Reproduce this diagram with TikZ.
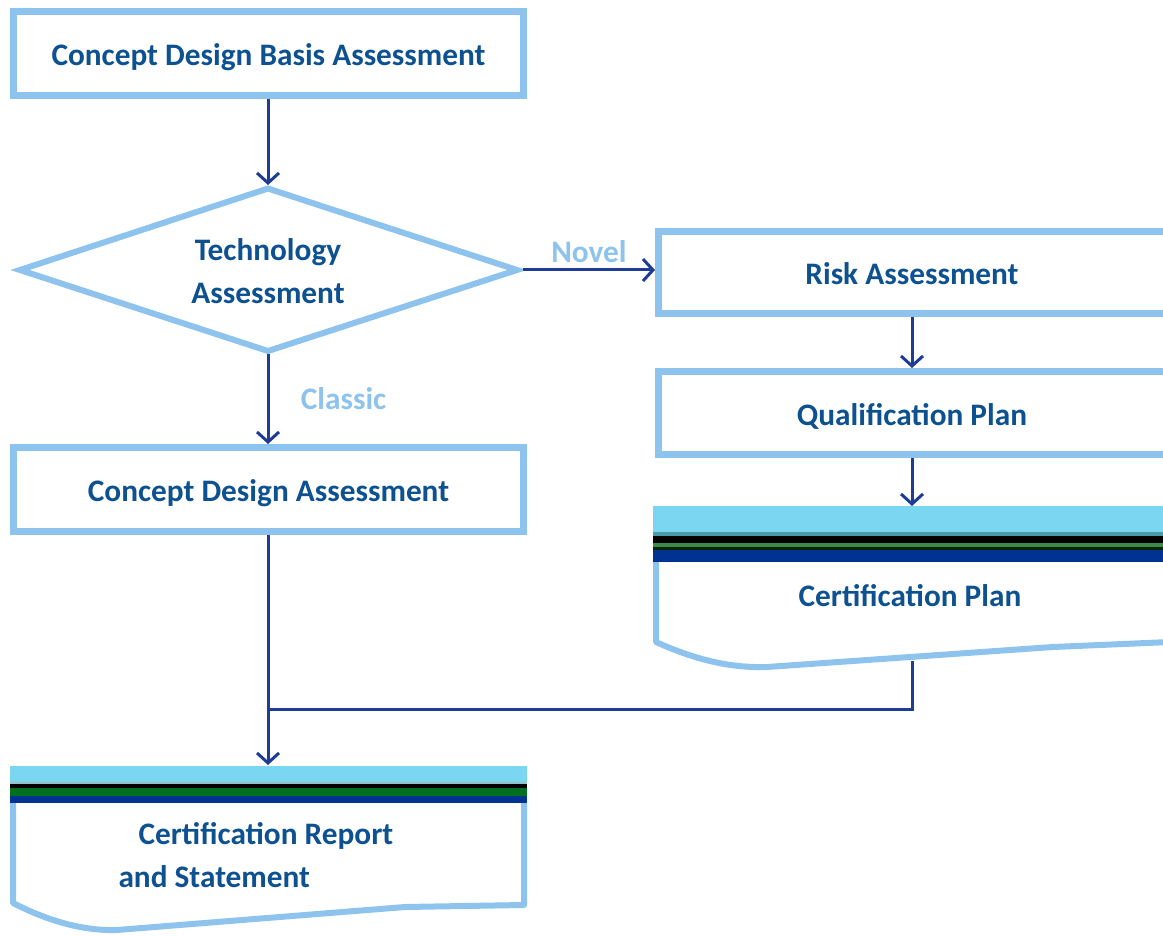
\documentclass[tikz,border=0pt]{standalone}
\usepackage{fontspec}
\setmainfont{Carlito}
\usetikzlibrary{arrows.meta}
\definecolor{frameblue}{HTML}{8DC3EC}
\definecolor{linkblue}{HTML}{1F3C95}
\definecolor{labelblue}{HTML}{0E5190}
\definecolor{bandcyan}{HTML}{7AD6F1}
\definecolor{bandteal}{HTML}{4B9AA8}
\definecolor{bandgreen}{HTML}{3A8A4A}
\definecolor{banddgreen}{HTML}{007020}
\definecolor{bandnavy}{HTML}{003391}
\tikzset{
  txt/.style={font=\fontsize{31.3}{43}\selectfont\bfseries, text=labelblue},
  procbox/.style={draw=frameblue, line width=7pt, fill=white, rectangle,
    minimum width=510pt, minimum height=84pt, inner sep=0pt, txt,
    text height=27pt, text depth=3pt},
  decisionline/.style={draw=frameblue, line width=6pt, line join=miter, fill=white},
  link/.style={draw=linkblue, line width=3pt,
    -{Straight Barb[length=10pt,width=22pt,line width=3pt]}},
  plainlink/.style={draw=linkblue, line width=3pt},
  branch/.style={font=\fontsize{31.3}{36}\selectfont\bfseries, text=frameblue},
  docline/.style={draw=frameblue, line width=6pt, line join=round}
}
\begin{document}
\begin{tikzpicture}[x=1pt,y=-1pt]
\useasboundingbox (0,0) rectangle (1163,936);
\clip (0,0) rectangle (1163,936);

% main column
\coordinate (lcol) at (268,0);
\node[procbox] (basis) at (268.5,53.5) {Concept Design Basis Assessment};

% decision diamond
\draw[decisionline] (20,270) -- (268,188.5) -- (517,270) -- (268,351) -- cycle;
\node[txt, align=center] (tech) at (268,271) {Technology\\Assessment};
\coordinate (techN) at (268,185);
\coordinate (techS) at (268,354);
\coordinate (techE) at (523,270);

\node[procbox] (cda) at (268.5,489.5) {Concept Design Assessment};

% novel branch (boxes run past the right edge)
\coordinate (rcol) at (912,0);
\node[procbox, minimum width=514pt, minimum height=82pt] (risk) at (915.5,272.5)
  {\hspace*{-7pt}Risk Assessment};
\node[procbox, minimum width=514pt, minimum height=83pt] (qual) at (915.5,413)
  {\hspace*{-7pt}Qualification Plan};

% certification plan document
\fill[bandcyan]   (653,506) rectangle (1170,532);
\fill[bandteal]   (653,532) rectangle (1170,536);
\fill[black]      (653,536) rectangle (1170,543);
\fill[bandgreen]  (653,543) rectangle (1170,547);
\fill[black!85!green] (653,547) rectangle (1170,550);
\fill[bandnavy]   (653,550) rectangle (1170,562);
\draw[docline] (656,562) -- (656,642)
  .. controls (700,662) and (735,668) .. (767,667)
  -- (1053,647) -- (1170,642);
\node[txt] (cplan) at (910,596) {Certification Plan};
\coordinate (cplantop) at (912,506);
\coordinate (cplanbot) at (912,661);

% certification report document
\fill[bandcyan]   (10,766) rectangle (527,782);
\fill[bandteal!60!white] (10,782) rectangle (527,784);
\fill[black]      (10,784) rectangle (527,788);
\fill[banddgreen] (10,788) rectangle (527,796);
\fill[bandnavy]   (10,796) rectangle (527,803);
\draw[docline] (13,803) -- (13,903)
  .. controls (50,922) and (85,931) .. (117,930)
  -- (405,907) -- (524,905) -- (524,803);
\node[txt, anchor=west, align=left] (crep) at (115,855.5)
  {\hspace*{20pt}Certification Report\\and Statement};
\coordinate (creptop) at (268,765);
\coordinate (merge) at (268,709);

% connectors
\draw[link] (basis.south -| lcol) -- (techN);
\draw[link] (techE) -- node[branch, above=2pt, pos=0.5] (novel) {Novel} (techE -| risk.west);
\draw[link] (techS) -- node[branch, right=28pt, pos=0.5] (classic) {Classic} (cda.north -| lcol);
\draw[link] (risk.south -| rcol) -- (qual.north -| rcol);
\draw[link] (qual.south -| rcol) -- (cplantop);
\draw[link] (cda.south -| lcol) -- (creptop);
\draw[plainlink] (cplanbot) |- (merge);
\end{tikzpicture}
\end{document}
